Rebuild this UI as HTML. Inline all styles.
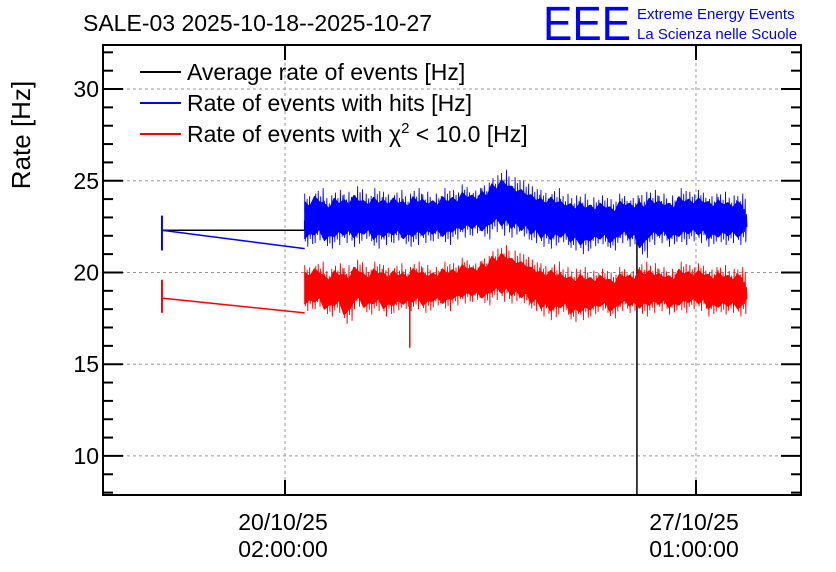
<!DOCTYPE html>
<html><head><meta charset="utf-8"><style>
body{margin:0;background:#fff;}
svg{display:block;font-family:"Liberation Sans",sans-serif;}
</style></head><body>
<svg id="chart" width="836" height="572" viewBox="0 0 836 572" xmlns="http://www.w3.org/2000/svg">
<text x="83" y="31" font-size="23">SALE-03 2025-10-18--2025-10-27</text>
<g>
<text x="543" y="40" font-size="48" fill="#0000ff" textLength="88" lengthAdjust="spacingAndGlyphs">EEE</text>
<text x="637" y="19" font-size="15" fill="#0000ff">Extreme Energy Events</text>
<text x="637" y="39" font-size="15" fill="#0000ff">La Scienza nelle Scuole</text>
</g>
<text transform="translate(30,135) rotate(-90)" text-anchor="middle" font-size="26">Rate [Hz]</text>
<g id="grid"></g><g id="series"></g><g id="axes"></g>
<g font-size="23">
<g><line x1="140" y1="72" x2="181" y2="72" stroke="#000" stroke-width="2"/><text x="187" y="80">Average rate of events [Hz]</text></g>
<g><line x1="140" y1="103" x2="181" y2="103" stroke="#0000ff" stroke-width="2"/><text x="187" y="111">Rate of events with hits [Hz]</text></g>
<g><line x1="140" y1="134" x2="181" y2="134" stroke="#ff0000" stroke-width="2"/><text x="187" y="142">Rate of events with χ<tspan font-size="15" dy="-9">2</tspan><tspan dy="9"> &lt; 10.0 [Hz]</tspan></text></g>
</g>
</svg>
<script>
const binStartHours = 8, binStepHours = 4;
const blueHi = [24.3,24.6,24.2,24.5,24.4,24.7,24.3,24.6,24.4,24.5,24.3,24.6,24.4,24.3,24.6,24.5,24.8,24.6,24.9,25.3,25.6,25.2,25.0,24.7,24.5,24.6,24.3,24.2,24.3,24.1,24.2,24.0,24.3,24.2,24.4,24.5,24.3,24.2,24.6,24.4,24.5,24.3,24.4,24.2,24.3];
const blueLo = [21.4,21.6,21.3,21.5,21.6,21.4,21.7,21.3,21.5,21.6,21.4,21.5,21.6,21.7,21.5,21.8,21.9,22.0,21.8,22.2,22.0,21.9,21.8,21.6,21.4,21.3,21.5,21.2,21.0,21.3,21.4,21.2,21.6,21.4,20.8,21.5,21.6,21.4,21.5,21.7,21.6,21.4,21.5,21.6,21.5];
const redHi = [20.4,20.6,20.2,20.5,20.4,20.7,20.3,20.6,20.4,20.5,20.3,20.6,20.4,20.3,20.6,20.5,20.8,20.6,20.9,21.3,21.5,21.2,21.0,20.7,20.5,20.6,20.3,20.2,20.3,20.1,20.2,20.0,20.3,20.2,20.6,20.5,20.3,20.2,20.6,20.4,20.5,20.3,20.4,20.2,20.3];
const redLo = [17.9,18.0,17.6,17.8,17.2,18.0,17.7,17.9,17.6,17.8,17.9,18.0,17.8,18.1,17.9,18.2,18.3,18.4,18.2,18.5,18.4,18.3,18.2,17.9,17.6,17.4,17.7,17.3,17.4,17.6,17.8,17.5,17.9,17.8,17.6,17.8,17.9,17.7,17.8,18.0,17.9,17.6,17.7,17.8,17.6];
const avgMean = [22.8,23.0,22.7,22.9,22.9,23.0,22.9,22.9,22.9,23.0,22.8,23.0,23.0,23.0,23.0,23.1,23.3,23.3,23.3,23.7,23.8,23.5,23.4,23.1,22.9,22.9,22.9,22.7,22.6,22.7,22.8,22.6,22.9,22.8,22.6,23.0,22.9,22.8,23.0,23.0,23.0,22.8,22.9,22.9,22.9];
const firstPointHours = -50;
const firstAvg = 22.3, firstBlue = 22.3, firstRed = 18.6;
const redSpike = {t:50.7, v:15.9};
const avgDrop = {t:143, v:7.0};
const yTicks = [10,15,20,25,30];
const xTickHours = [0,167];
const xTickLabels = [["20/10/25","02:00:00"],["27/10/25","01:00:00"]];

const L=103,R=801,T=45,B=495, yMin=7.87, yMax=32.4;
const X=h=>285+h*2.461;
const Y=v=>B-(v-yMin)/(yMax-yMin)*(B-T);
const NS="http://www.w3.org/2000/svg";
function mk(tag,parent,attrs){const e=document.createElementNS(NS,tag);for(const k in attrs)e.setAttribute(k,attrs[k]);parent.appendChild(e);return e;}
const grid=document.getElementById('grid'),ser=document.getElementById('series'),ax=document.getElementById('axes');
yTicks.forEach(v=>{const g=mk('line',grid,{x1:L,x2:R,y1:Y(v),y2:Y(v),stroke:'#999','stroke-dasharray':'3,3','stroke-width':1});

});
xTickHours.forEach(h=>{const g=mk('line',grid,{x1:X(h),x2:X(h),y1:T,y2:B,stroke:'#999','stroke-dasharray':'3,3','stroke-width':1});

});
const ts=blueHi.map((_,i)=>binStartHours+i*binStepHours);
// fixed stroke pattern for the dense noise rendering (fractions of each bin's envelope)
const hiPat=[1,0.7,0.9,0.6,0.95,0.75,0.85,0.65];
const loPat=[0.1,0.3,0,0.4,0.15,0.25,0.05,0.35];
function band(hi,lo,color,name){
  let pts=[];
  ts.forEach((t,i)=>{pts.push([X(t),Y(hi[i]-(hi[i]-lo[i])*0.15)]);pts.push([X(t+binStepHours/2),Y(hi[i]-(hi[i]-lo[i])*0.25)]);});
  for(let i=ts.length-1;i>=0;i--){pts.push([X(ts[i]+binStepHours/2),Y(lo[i]+(hi[i]-lo[i])*0.25)]);pts.push([X(ts[i]),Y(lo[i]+(hi[i]-lo[i])*0.15)]);}
  const p=mk('polygon',ser,{points:pts.map(p=>p.join(',')).join(' '),fill:color,stroke:color,'stroke-width':1,'stroke-linejoin':'bevel'});
  
  
  let z='';
  ts.forEach((t,i)=>{const n=hiPat.length;for(let k=0;k<n;k++){const tt=t+k*binStepHours/n;const r=hi[i]-lo[i];
    z+=X(tt)+','+Y(lo[i]+r*hiPat[(k+i)%n])+' '+(X(tt)+0.6)+','+Y(lo[i]+r*loPat[(k+2*i)%n])+' ';}});
  const zz=mk('polyline',ser,{points:z,fill:'none',stroke:color,'stroke-width':0.9});
  
  
}
let ap=X(firstPointHours)+','+Y(firstAvg)+' '+X(binStartHours)+','+Y(firstAvg)+' ';
ts.forEach((t,i)=>{ap+=X(t)+','+Y(avgMean[i])+' ';if(Math.abs(t-avgDrop.t)<2)ap+=X(avgDrop.t)+','+Y(avgMean[i])+' '+X(avgDrop.t)+','+Y(avgDrop.v)+' '+X(avgDrop.t)+','+Y(avgMean[i])+' ';});
const al=mk('polyline',ser,{points:ap,fill:'none',stroke:'#000','stroke-width':1.5});


const cp=document.createElementNS(NS,'clipPath');cp.id='pc';mk('rect',cp,{x:L,y:T,width:R-L,height:B-T});ser.appendChild(cp);al.setAttribute('clip-path','url(#pc)');
band(blueHi,blueLo,'#0000ff','hits-rate-band');
const bl=mk('polyline',ser,{points:X(firstPointHours)+','+Y(firstBlue)+' '+X(binStartHours)+','+Y(21.3),fill:'none',stroke:'#0000ff','stroke-width':1.5});


const be=mk('line',ser,{x1:X(firstPointHours),x2:X(firstPointHours),y1:Y(firstBlue-1.1),y2:Y(firstBlue+0.8),stroke:'#0000ff','stroke-width':2});


band(redHi,redLo,'#ff0000','chi2-rate-band');
const rl=mk('polyline',ser,{points:X(firstPointHours)+','+Y(firstRed)+' '+X(binStartHours)+','+Y(17.8),fill:'none',stroke:'#ff0000','stroke-width':1.5});


const re=mk('line',ser,{x1:X(firstPointHours),x2:X(firstPointHours),y1:Y(firstRed-0.8),y2:Y(firstRed+1.0),stroke:'#ff0000','stroke-width':2});


const rs=mk('line',ser,{x1:X(redSpike.t),x2:X(redSpike.t),y1:Y(redSpike.v),y2:Y(18.5),stroke:'#ff0000','stroke-width':1.5});


const fr=mk('rect',ax,{x:L,y:T,width:R-L,height:B-T,fill:'none',stroke:'#000','stroke-width':2});


for(let v=8;v<=32;v++){const len=v%5==0?20:10;
 mk('line',ax,{x1:L,x2:L+len,y1:Y(v),y2:Y(v),stroke:'#000','stroke-width':2});
 mk('line',ax,{x1:R-len,x2:R,y1:Y(v),y2:Y(v),stroke:'#000','stroke-width':2});}
yTicks.forEach(v=>{const t=mk('text',ax,{x:L-4,y:Y(v)+8,'text-anchor':'end','font-size':23});t.textContent=v;

});
xTickHours.forEach((h,i)=>{
 mk('line',ax,{x1:X(h),x2:X(h),y1:B,y2:B-15,stroke:'#000','stroke-width':2});
 mk('line',ax,{x1:X(h),x2:X(h),y1:T,y2:T+15,stroke:'#000','stroke-width':2});
 const t=mk('text',ax,{x:X(h)-2,y:530,'text-anchor':'middle','font-size':23});t.textContent=xTickLabels[i][0];
 
 
 const t2=mk('text',ax,{x:X(h)-2,y:557,'text-anchor':'middle','font-size':23});t2.textContent=xTickLabels[i][1];
 
 
});
</script>
</body></html>
